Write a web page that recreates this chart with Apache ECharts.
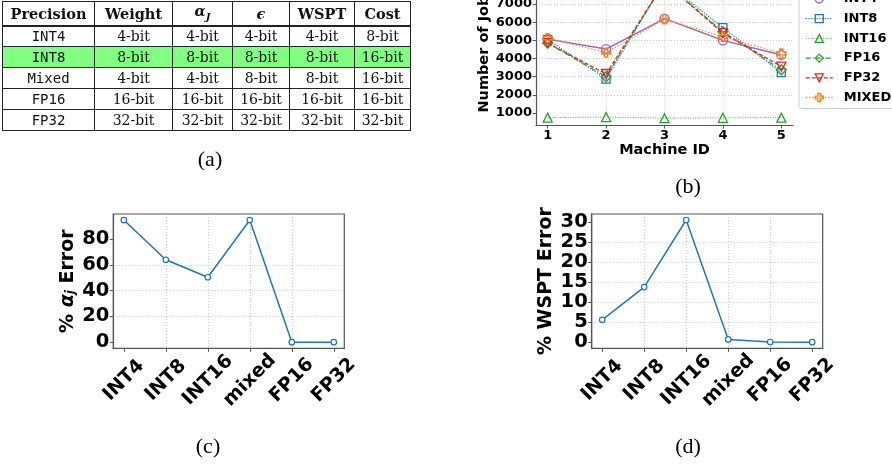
<!DOCTYPE html>
<html>
<head>
<meta charset="utf-8">
<script src="https://cdn.jsdelivr.net/npm/echarts@6/dist/echarts.min.js"></script>
<style>
  html, body { margin:0; padding:0; background:#fff; }
  #wrap { position:relative; width:892px; height:467px; overflow:hidden; }
  #chart { position:absolute; left:0; top:0; width:892px; height:467px; }
  .tbl { position:absolute; left:2px; border-collapse:collapse; table-layout:fixed; color:#111; }
  .tbl td { border:1px solid #222; padding:0; text-align:center; white-space:nowrap; overflow:hidden; }
  #thead { top:1px; }
  #thead td { height:18px; font-family:"DejaVu Serif"; font-weight:bold; font-size:14.5px; line-height:18px; }
  #tbody { top:25px; }
  #tbody td { height:20px; font-family:"DejaVu Serif"; font-size:14px; line-height:20px; }
  #tbody td.mono { font-family:"DejaVu Sans Mono"; font-size:14px; }
  #tbody tr.hl td { background:#80ff80; }
</style>
</head>
<body>
<div id="wrap">
  <div id="chart"></div>
  <table class="tbl" id="thead"></table>
  <table class="tbl" id="tbody"></table>
</div>
<script>
// ---------- (a) table data ----------
const tableHeader = ['Precision', 'Weight', '<i>α<sub style="font-size:10px">J</sub></i>', '<i>ϵ</i>', 'WSPT', 'Cost'];
const tablePrecision = ['INT4', 'INT8', 'Mixed', 'FP16', 'FP32'];
const tableWeight = ['4-bit', '8-bit', '4-bit', '16-bit', '32-bit'];
const tableAlpha = ['4-bit', '8-bit', '4-bit', '16-bit', '32-bit'];
const tableEps = ['4-bit', '8-bit', '8-bit', '16-bit', '32-bit'];
const tableWspt = ['4-bit', '8-bit', '8-bit', '16-bit', '32-bit'];
const tableCost = ['8-bit', '16-bit', '16-bit', '16-bit', '32-bit'];
const highlightRow = 'INT8';

// ---------- (b) data ----------
const machineIds = [1, 2, 3, 4, 5];
const jobsINT4 = [5070, 4520, 6200, 5000, 4200];
const jobsINT8 = [5050, 2870, 8250, 5700, 3230];
const jobsINT16 = [750, 780, 720, 740, 750];
const jobsFP16 = [4850, 3000, 8200, 5480, 3380];
const jobsFP32 = [4850, 3150, 8200, 5400, 3560];
const jobsMIXED = [5120, 4330, 6160, 5200, 4280];
const jobsTicks = [1000, 2000, 3000, 4000, 5000, 6000, 7000, 8000];

// ---------- (c) / (d) data ----------
const precisionCats = ['INT4', 'INT8', 'INT16', 'mixed', 'FP16', 'FP32'];
const alphaError = [94.8, 64, 50.4, 94.8, 0, 0];
const wsptError = [5.6, 13.8, 30.6, 0.7, 0.05, 0];
const alphaTicks = [0, 20, 40, 60, 80];
const wsptTicks = [0, 5, 10, 15, 20, 25, 30];

// ---------- build table ----------
const colW = [92, 78, 60, 57, 65, 56];
function colgroup() { return '<colgroup>' + colW.map(w => '<col style="width:' + w + 'px">').join('') + '</colgroup>'; }
document.getElementById('thead').innerHTML = colgroup() + '<tr>' + tableHeader.map(h => '<td>' + h + '</td>').join('') + '</tr>';
let bodyHtml = colgroup();
tablePrecision.forEach((p, i) => {
  bodyHtml += '<tr' + (p === highlightRow ? ' class="hl"' : '') + '>' +
    '<td class="mono">' + p + '</td><td>' + tableWeight[i] + '</td><td>' + tableAlpha[i] + '</td><td>' +
    tableEps[i] + '</td><td>' + tableWspt[i] + '</td><td>' + tableCost[i] + '</td></tr>';
});
document.getElementById('tbody').innerHTML = bodyHtml;

// ---------- chart ----------
const chart = echarts.init(document.getElementById('chart'), null, { renderer: 'canvas' });
const SANS = 'DejaVu Sans';
const gridLine = { show: true, lineStyle: { color: '#bdbdbd', width: 0.8, type: [1, 2] }, showMinLine: false, showMaxLine: false };
const darkAxis = { show: true, onZero: false, lineStyle: { color: '#555', width: 1.2 } };
const TRANSP = 'rgba(0,0,0,0)';
const plain = v => String(v);

const triDown = 'path://M0,0L10,0L5,8.66Z';
const plusPath = 'path://M3.3,0H6.7V3.3H10V6.7H6.7V10H3.3V6.7H0V3.3H3.3Z';
const jobSpecs = [
  { name: 'INT4', vals: jobsINT4, color: '#9467bd', dash: 'solid', symbol: 'circle', size: 9, lw: 1.5 },
  { name: 'INT8', vals: jobsINT8, color: '#1f77b4', dash: [1.2, 1.5], symbol: 'rect', size: 8, lw: 1.3 },
  { name: 'INT16', vals: jobsINT16, color: '#2ca02c', dash: [1, 1.5], symbol: 'triangle', size: 9, lw: 0.9 },
  { name: 'FP16', vals: jobsFP16, color: '#2ca02c', dash: [5, 2, 1, 2], symbol: 'diamond', size: 10, lw: 1.3 },
  { name: 'FP32', vals: jobsFP32, color: '#d62728', dash: [4, 2], symbol: triDown, size: 9, lw: 1.3 },
  { name: 'MIXED', vals: jobsMIXED, color: '#ff7f0e', dash: [1.2, 2], symbol: plusPath, size: 9, lw: 1.3 }
];

function jobsSeries(s) {
  return {
    name: s.name, type: 'line', xAxisIndex: 0, yAxisIndex: 0,
    data: machineIds.map((m, i) => [m, s.vals[i]]),
    symbol: s.symbol, symbolSize: s.size, showAllSymbol: true,
    lineStyle: { color: s.color, width: s.lw, type: s.dash },
    itemStyle: { color: TRANSP, borderColor: s.color, borderWidth: 1.3 },
    emphasis: { disabled: true }, animation: false
  };
}

function errSeries(vals, xi, yi) {
  return {
    type: 'line', xAxisIndex: xi, yAxisIndex: yi,
    data: precisionCats.map((c, i) => [i, vals[i]]),
    symbol: 'circle', symbolSize: 5.5, showAllSymbol: true,
    lineStyle: { color: '#1f77b4', width: 1.5 },
    itemStyle: { color: '#fff', borderColor: '#1f77b4', borderWidth: 1.2 },
    emphasis: { disabled: true }, animation: false
  };
}

function catAxis(gi) {
  return {
    type: 'value', gridIndex: gi, min: -0.25, max: 5.25, interval: 1,
    axisLine: darkAxis,
    axisTick: { show: true, length: 3.5, lineStyle: { color: '#555' }, customValues: [0, 1, 2, 3, 4, 5] },
    axisLabel: {
      customValues: [0, 1, 2, 3, 4, 5],
      formatter: v => (Number.isInteger(v) && precisionCats[v] !== undefined) ? precisionCats[v] : '',
      rotate: 45, align: 'center', verticalAlign: 'middle', margin: 32,
      fontFamily: SANS, fontWeight: 'bold', fontSize: 19, color: '#000'
    },
    splitLine: gridLine
  };
}
function errYAxis(gi, min, max, interval, ticks, name, rich, gap) {
  return {
    type: 'value', gridIndex: gi, min: min, max: max, interval: interval,
    axisLine: darkAxis,
    axisTick: { show: true, length: 3.5, lineStyle: { color: '#555' }, customValues: ticks },
    axisLabel: { customValues: ticks, formatter: plain, margin: 4, fontFamily: SANS, fontWeight: 'bold', fontSize: 19.5, color: '#000' },
    splitLine: gridLine,
    name: name, nameLocation: 'middle', nameGap: gap,
    nameTextStyle: { fontFamily: SANS, fontWeight: 'bold', fontSize: 19, color: '#000', rich: rich }
  };
}

const option = {
  backgroundColor: '#fff',
  animation: false,
  grid: [
    { left: 536, top: -25.5, width: 257, height: 150.5, containLabel: false, outerBoundsMode: 'none' },
    { left: 113.3, top: 214, width: 231, height: 134.3, show: true, borderColor: '#555', borderWidth: 1.2, containLabel: false, outerBoundsMode: 'none' },
    { left: 591.7, top: 214, width: 231, height: 134.3, show: true, borderColor: '#555', borderWidth: 1.2, containLabel: false, outerBoundsMode: 'none' }
  ],
  xAxis: [
    {
      type: 'value', gridIndex: 0, min: 0.8, max: 5.2, interval: 1,
      axisLine: darkAxis,
      axisTick: { show: true, length: 3.5, lineStyle: { color: '#555' }, customValues: machineIds },
      axisLabel: { customValues: machineIds, formatter: plain, margin: 4, fontFamily: SANS, fontWeight: 'bold', fontSize: 13, color: '#000' },
      splitLine: gridLine,
      name: 'Machine ID', nameLocation: 'middle', nameGap: 13,
      nameTextStyle: { fontFamily: SANS, fontWeight: 'bold', fontSize: 14.5, color: '#000' }
    },
    catAxis(1),
    catAxis(2)
  ],
  yAxis: [
    {
      type: 'value', gridIndex: 0, min: 344, max: 8626, interval: 1000,
      axisLine: darkAxis,
      axisTick: { show: true, length: 3.5, lineStyle: { color: '#555' }, customValues: jobsTicks },
      axisLabel: { customValues: jobsTicks, formatter: plain, margin: 4, fontFamily: SANS, fontWeight: 'bold', fontSize: 13, color: '#000' },
      splitLine: gridLine,
      name: 'Number of Jobs', nameLocation: 'middle', nameGap: 42,
      nameTextStyle: { fontFamily: SANS, fontWeight: 'bold', fontSize: 14.5, color: '#000' }
    },
    errYAxis(1, -4.74, 99.5, 20, alphaTicks, '% {a|α}{s|j} Error', {
      a: { fontFamily: 'DejaVu Sans', fontStyle: 'italic', fontSize: 19, color: '#000' },
      s: { fontFamily: 'DejaVu Sans', fontStyle: 'italic', fontSize: 12, color: '#000', verticalAlign: 'bottom', padding: [6, 0, 0, 0] }
    }, 36),
    errYAxis(2, -1.53, 32.1, 5, wsptTicks, '% WSPT Error', {}, 36)
  ],
  legend: {
    orient: 'vertical', left: 799, top: -12,
    padding: [4, 6, 4, 6], itemWidth: 27, itemHeight: 10, itemGap: 5.7,
    borderColor: '#ccc', borderWidth: 1, borderRadius: 3, backgroundColor: 'rgba(255,255,255,0.85)',
    textStyle: { fontFamily: SANS, fontWeight: 'bold', fontSize: 13, color: '#000', lineHeight: 14, padding: [0, 0, 0, 6] },
    data: jobSpecs.map(s => ({
      name: s.name,
      itemStyle: { color: TRANSP, borderColor: s.color, borderWidth: 1.3 },
      lineStyle: { color: s.color, width: s.lw, type: s.dash }
    }))
  },
  graphic: [
    { type: 'text', x: 210, y: 160, style: { text: '(a)', fontFamily: 'Liberation Serif', fontSize: 22, fill: '#000', align: 'center', verticalAlign: 'middle' } },
    { type: 'text', x: 688, y: 187, style: { text: '(b)', fontFamily: 'Liberation Serif', fontSize: 22, fill: '#000', align: 'center', verticalAlign: 'middle' } },
    { type: 'text', x: 208, y: 447, style: { text: '(c)', fontFamily: 'Liberation Serif', fontSize: 22, fill: '#000', align: 'center', verticalAlign: 'middle' } },
    { type: 'text', x: 688, y: 447, style: { text: '(d)', fontFamily: 'Liberation Serif', fontSize: 22, fill: '#000', align: 'center', verticalAlign: 'middle' } }
  ],
  series: jobSpecs.map(jobsSeries).concat([
    errSeries(alphaError, 1, 1),
    errSeries(wsptError, 2, 2)
  ])
};
chart.setOption(option);
</script>
</body>
</html>
